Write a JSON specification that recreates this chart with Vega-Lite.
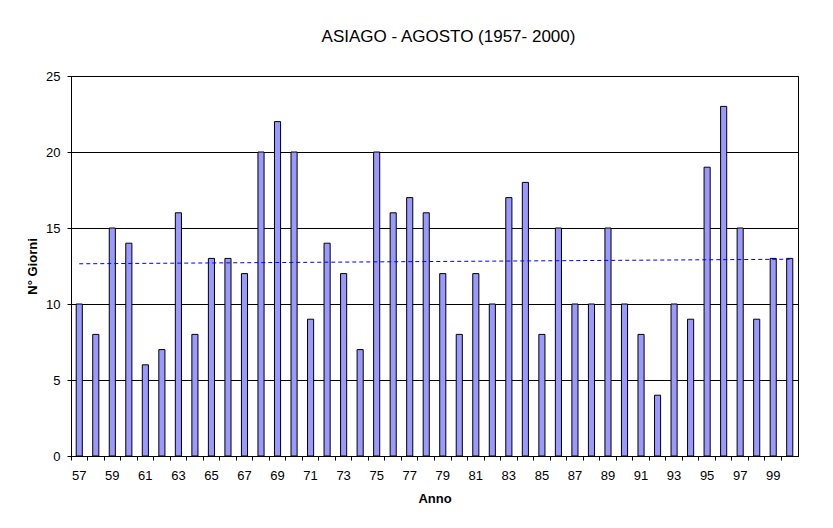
{
  "$schema": "https://vega.github.io/schema/vega-lite/v6.json",
  "autosize": "none",
  "width": 727,
  "height": 380,
  "padding": {"left": 71, "top": 76, "right": 35, "bottom": 72},
  "background": "white",
  "title": {"text": "ASIAGO - AGOSTO (1957- 2000)", "font": "Liberation Sans", "fontSize": 17, "fontWeight": "normal", "color": "black", "offset": 24, "dx": 14},
  "config": {
    "view": {"stroke": "black", "strokeWidth": 1},
    "axis": {"labelFont": "Liberation Sans", "titleFont": "Liberation Sans", "labelFontSize": 13, "titleFontSize": 13, "labelColor": "black", "titleColor": "black", "domainColor": "black", "tickColor": "black", "gridColor": "black", "gridOpacity": 1}
  },
  "data": {"values": [
    {"year": 1957, "giorni": 10}, {"year": 1958, "giorni": 8}, {"year": 1959, "giorni": 15}, {"year": 1960, "giorni": 14},
    {"year": 1961, "giorni": 6}, {"year": 1962, "giorni": 7}, {"year": 1963, "giorni": 16}, {"year": 1964, "giorni": 8},
    {"year": 1965, "giorni": 13}, {"year": 1966, "giorni": 13}, {"year": 1967, "giorni": 12}, {"year": 1968, "giorni": 20},
    {"year": 1969, "giorni": 22}, {"year": 1970, "giorni": 20}, {"year": 1971, "giorni": 9}, {"year": 1972, "giorni": 14},
    {"year": 1973, "giorni": 12}, {"year": 1974, "giorni": 7}, {"year": 1975, "giorni": 20}, {"year": 1976, "giorni": 16},
    {"year": 1977, "giorni": 17}, {"year": 1978, "giorni": 16}, {"year": 1979, "giorni": 12}, {"year": 1980, "giorni": 8},
    {"year": 1981, "giorni": 12}, {"year": 1982, "giorni": 10}, {"year": 1983, "giorni": 17}, {"year": 1984, "giorni": 18},
    {"year": 1985, "giorni": 8}, {"year": 1986, "giorni": 15}, {"year": 1987, "giorni": 10}, {"year": 1988, "giorni": 10},
    {"year": 1989, "giorni": 15}, {"year": 1990, "giorni": 10}, {"year": 1991, "giorni": 8}, {"year": 1992, "giorni": 4},
    {"year": 1993, "giorni": 10}, {"year": 1994, "giorni": 9}, {"year": 1995, "giorni": 19}, {"year": 1996, "giorni": 23},
    {"year": 1997, "giorni": 15}, {"year": 1998, "giorni": 9}, {"year": 1999, "giorni": 13}, {"year": 2000, "giorni": 13}
  ]},
  "layer": [
    {
      "mark": {"type": "bar", "fill": "#9999FF", "stroke": "black", "strokeWidth": 1, "width": {"band": 0.37}},
      "encoding": {
        "x": {"field": "year", "type": "ordinal", "sort": "ascending",
          "scale": {"paddingInner": 0, "paddingOuter": 0},
          "axis": {"title": "Anno", "titleFontWeight": "bold", "titlePadding": 10, "labelAngle": 0, "bandPosition": 0, "labelPadding": 9, "tickSize": 4, "grid": false,
            "labelExpr": "datum.value % 2 == 1 ? format(datum.value % 100, '02d') : ''"}},
        "y": {"field": "giorni", "type": "quantitative",
          "scale": {"domain": [0, 25], "nice": false},
          "axis": {"title": "N° Giorni", "titleFontWeight": "bold", "values": [0, 5, 10, 15, 20, 25], "grid": true, "tickSize": 4, "labelPadding": 7, "titlePadding": 6}}
      }
    },
    {
      "transform": [{"regression": "giorni", "on": "year"}],
      "mark": {"type": "line", "color": "#0000FF", "strokeWidth": 1, "strokeDash": [4, 3]},
      "encoding": {
        "x": {"field": "year", "type": "ordinal"},
        "y": {"field": "giorni", "type": "quantitative"}
      }
    }
  ]
}
